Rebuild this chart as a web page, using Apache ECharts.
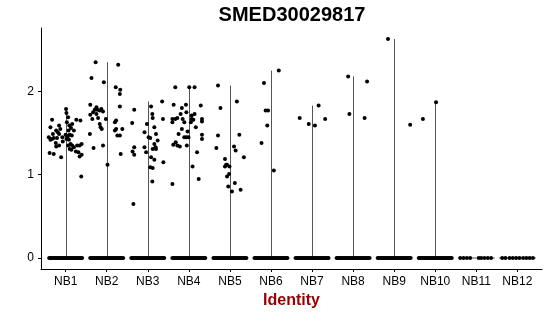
<!DOCTYPE html>
<html><head><meta charset="utf-8">
<script src="https://cdn.jsdelivr.net/npm/echarts@6/dist/echarts.min.js"></script>
<style>html,body{margin:0;padding:0;background:#fff}#c{width:550px;height:316px}</style>
</head><body><div id="c"></div>
<script>
const categories = ['NB1','NB2','NB3','NB4','NB5','NB6','NB7','NB8','NB9','NB10','NB11','NB12'];
const yTickValues = [0, 1, 2];
const titleText = 'SMED30029817';
const xAxisTitle = 'Identity';

// expressing cells: [jitter offset, expression]
const nb1 = [[-0.33,1.66],[-0.37,1.57],[-0.16,1.59],[-0.23,1.53],[-0.19,1.51],[-0.13,1.55],[-0.41,1.45],[-0.33,1.43],[-0.37,1.42],[-0.29,1.44],[-0.21,1.44],[-0.08,1.45],[-0.24,1.38],[-0.16,1.35],[-0.23,1.34],[-0.39,1.26],[-0.29,1.25],[-0.11,1.21],[0.01,1.79],[0.02,1.74],[0.06,1.69],[0.03,1.63],[0.09,1.59],[0.16,1.61],[0.13,1.56],[0.20,1.53],[0.07,1.53],[0.00,1.48],[0.05,1.46],[0.10,1.48],[0.15,1.47],[0.02,1.43],[0.08,1.42],[0.12,1.37],[0.06,1.35],[0.16,1.35],[0.10,1.31],[0.14,1.30],[0.20,1.33],[0.26,1.66],[0.36,1.65],[0.28,1.35],[0.34,1.35],[0.39,1.37],[0.31,1.27],[0.34,1.22],[0.39,1.24],[0.25,1.28],[0.38,0.98],[-0.07,1.40],[-0.16,1.49],[-0.31,1.49],[0.02,1.47]];
const nb2 = [[-0.27,2.35],[-0.37,2.16],[-0.07,2.11],[0.28,2.32],[0.22,2.05],[0.33,2.02],[0.32,1.97],[-0.40,1.84],[-0.40,1.72],[-0.33,1.75],[-0.29,1.78],[-0.25,1.81],[-0.23,1.78],[-0.17,1.77],[-0.13,1.79],[-0.09,1.76],[-0.25,1.73],[-0.21,1.68],[-0.17,1.61],[-0.15,1.57],[-0.12,1.55],[-0.35,1.67],[-0.41,1.49],[-0.02,1.67],[-0.32,1.32],[-0.09,1.35],[0.02,1.12],[0.20,1.63],[0.23,1.65],[0.32,1.82],[0.20,1.53],[0.23,1.55],[0.38,1.55],[0.26,1.47],[0.32,1.47],[0.34,1.25]];
const nb3 = [[-0.35,0.65],[-0.38,1.62],[-0.33,1.78],[-0.33,1.33],[-0.37,1.28],[-0.33,1.24],[-0.08,1.51],[-0.02,1.61],[0.02,1.45],[0.06,1.44],[-0.08,1.33],[-0.04,1.27],[0.08,1.82],[0.11,1.73],[0.12,1.68],[0.16,1.57],[0.20,1.49],[0.16,1.37],[0.19,1.33],[0.12,1.31],[0.20,1.31],[0.08,1.21],[0.06,1.09],[0.12,1.08],[0.11,0.92],[0.16,1.18],[0.35,1.88],[0.37,1.67],[0.38,1.15],[0.24,1.41]];
const nb4 = [[-0.33,2.05],[-0.37,1.84],[-0.40,1.67],[-0.40,1.63],[-0.33,1.67],[-0.28,1.68],[-0.25,1.49],[-0.38,1.36],[-0.32,1.39],[-0.28,1.35],[-0.22,1.34],[-0.40,0.89],[-0.20,1.73],[-0.17,1.80],[-0.15,1.67],[-0.11,1.63],[-0.07,1.84],[-0.06,1.75],[-0.17,1.55],[-0.11,1.45],[-0.06,1.45],[-0.03,1.52],[-0.05,1.35],[0.01,2.05],[0.14,2.05],[0.07,1.71],[0.07,1.67],[0.05,1.63],[0.11,1.66],[-0.01,1.45],[0.09,1.10],[0.17,1.57],[0.20,1.27],[0.24,0.95],[0.29,1.83],[0.32,1.67],[0.32,1.64],[0.32,1.48],[0.32,1.43],[0.14,1.73]];
const nb5 = [[-0.29,2.07],[-0.23,1.80],[-0.29,1.47],[-0.33,1.32],[-0.12,1.19],[-0.09,1.12],[-0.12,1.10],[-0.07,1.12],[-0.01,1.10],[-0.02,1.01],[-0.07,0.98],[-0.04,0.86],[0.05,0.80],[0.12,0.90],[0.17,1.88],[0.23,1.48],[0.10,1.34],[0.14,1.29],[0.34,1.21],[0.26,0.82]];
const nb6 = [[0.19,2.25],[-0.17,2.10],[-0.13,1.77],[-0.07,1.77],[-0.09,1.59],[-0.23,1.38],[0.07,1.05]];
const nb7 = [[-0.30,1.68],[-0.08,1.61],[0.07,1.59],[0.16,1.83],[0.32,1.67]];
const nb8 = [[-0.12,2.18],[0.34,2.12],[-0.09,1.73],[0.28,1.68]];
const nb9 = [[-0.15,2.63],[0.39,1.60]];
const nb10 = [[-0.30,1.67],[0.02,1.87]];
const nb11 = [];
const nb12 = [];

// non-expressing cells (value 0): jitter offsets
const denseZeroOffsets = [-0.40,-0.37,-0.345,-0.31,-0.28,-0.255,-0.22,-0.19,-0.165,-0.13,-0.10,-0.075,-0.04,-0.01,0.015,0.05,0.08,0.105,0.14,0.17,0.195,0.23,0.26,0.285,0.32,0.35,0.375,0.40];
const nb11Zero = [-0.39,-0.31,-0.23,-0.15,0.06,0.12,0.20,0.28,0.36];
const nb12Zero = [-0.37,-0.29,-0.19,-0.11,-0.03,0.05,0.14,0.22,0.30,0.38];

const exprGroups = [nb1,nb2,nb3,nb4,nb5,nb6,nb7,nb8,nb9,nb10,nb11,nb12];
const zeroGroups = [denseZeroOffsets,denseZeroOffsets,denseZeroOffsets,denseZeroOffsets,denseZeroOffsets,denseZeroOffsets,denseZeroOffsets,denseZeroOffsets,denseZeroOffsets,denseZeroOffsets,nb11Zero,nb12Zero];

const points = [];
exprGroups.forEach((g, i) => g.forEach(p => points.push([i + 1 + p[0], p[1]])));
zeroGroups.forEach((g, i) => g.forEach(o => points.push([i + 1 + o, 0])));

const violinData = exprGroups.map((g, i) => [i + 1, g.length ? Math.max(...g.map(p => p[1])) : 0]);
const xTickValues = categories.map((c, i) => i + 1);

const allVals = points.map(p => p[1]);
const yMaxData = Math.max(...allVals), yMinData = 0;
const pad = (yMaxData - yMinData) * 0.05;

const FONT = 'Liberation Sans';
const chart = echarts.init(document.getElementById('c'), null, {renderer: 'canvas'});
chart.setOption({
  animation: false,
  backgroundColor: '#fff',
  grid: {left: 41, right: 8, top: 28, bottom: 47, containLabel: false},
  graphic: [
    {type: 'text', x: 292, y: 15, style: {text: titleText, textAlign: 'center', textVerticalAlign: 'middle', font: 'bold 20px "Liberation Sans"', fill: '#000'}}
  ],
  xAxis: {
    type: 'value', min: 0.4, max: 12.6,
    name: xAxisTitle, nameLocation: 'middle', nameGap: 24,
    nameTextStyle: {fontFamily: FONT, fontSize: 16, fontWeight: 'bold', color: '#990000'},
    axisLine: {show: true, onZero: false, lineStyle: {color: '#000', width: 1}},
    axisTick: {show: true, length: 3, customValues: xTickValues, lineStyle: {color: '#000'}},
    axisLabel: {customValues: xTickValues, margin: 7, fontFamily: FONT, fontSize: 12, color: '#000', formatter: v => categories[Math.round(v) - 1]},
    splitLine: {show: false}
  },
  yAxis: {
    type: 'value', min: yMinData - pad, max: yMaxData + pad,
    axisLine: {show: true, onZero: false, lineStyle: {color: '#000', width: 1}},
    axisTick: {show: true, length: 3, customValues: yTickValues, lineStyle: {color: '#000'}},
    axisLabel: {customValues: yTickValues, margin: 7, fontFamily: FONT, fontSize: 12, color: '#000'},
    splitLine: {show: false}
  },
  series: [
    {
      type: 'custom',
      data: violinData,
      renderItem: (params, api) => {
        const x = api.value(0), top = api.value(1);
        const b = api.coord([x, 0]);
        const t = api.coord([x, top]);
        const l = api.coord([x - 0.45, 0]);
        const r = api.coord([x + 0.45, 0]);
        const style = {stroke: '#555', lineWidth: 1};
        const children = [{type: 'line', shape: {x1: l[0], y1: l[1], x2: r[0], y2: r[1]}, style}];
        if (top > 0) children.push({type: 'line', shape: {x1: Math.round(b[0]) + 0.5, y1: b[1], x2: Math.round(t[0]) + 0.5, y2: t[1]}, style});
        return {type: 'group', children};
      },
      z: 1
    },
    {
      type: 'scatter', data: points, symbolSize: 4,
      itemStyle: {color: '#000', opacity: 1}, z: 2
    }
  ]
});
</script></body></html>
